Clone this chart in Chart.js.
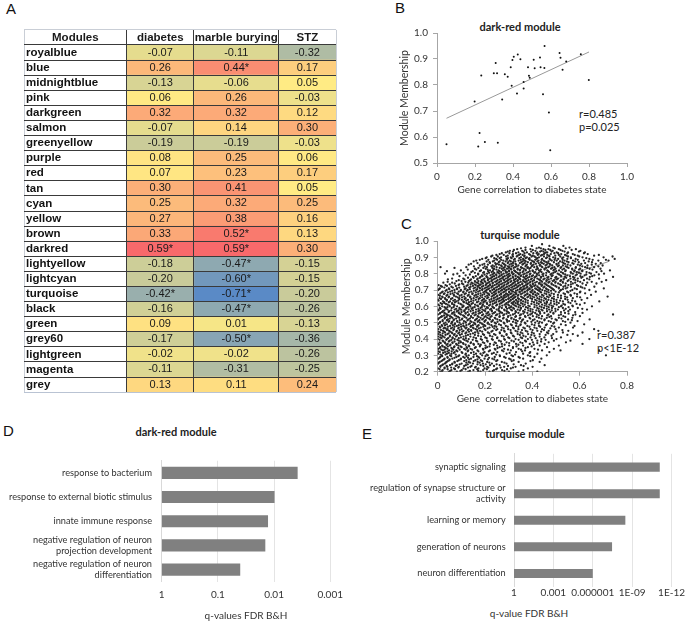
<!DOCTYPE html>
<html>
<head>
<meta charset="utf-8">
<script src="https://cdn.jsdelivr.net/npm/chart.js@4.4.1/dist/chart.umd.min.js"></script>
<style>
  html, body { margin: 0; padding: 0; background: #fff; }
  body { width: 685px; height: 623px; position: relative; overflow: hidden; font-family: Lato, sans-serif; color: #222; }
  .box { position: absolute; }
  .txt { position: absolute; white-space: nowrap; line-height: 1; }
  .letter { font-family: 'Liberation Sans', Arial, sans-serif; font-size: 15px; color: #111; }
  .ttl { font-size: 11px; font-weight: bold; transform: translate(-50%, -50%); color: #222; }
  .note { font-size: 11px; transform: translate(0, -50%); color: #222; }
  .axt { font-size: 10px; transform: translate(-50%, -50%); color: #333; }
</style>
</head>
<body>
<div class="txt letter" style="left:6px; top:1px">A</div>
<div class="txt letter" style="left:395px; top:0px">B</div>
<div class="txt letter" style="left:401px; top:216px">C</div>
<div class="txt letter" style="left:3px; top:423px">D</div>
<div class="txt letter" style="left:362px; top:426px">E</div>

<div class="txt ttl" style="left:520px; top:26px">dark-red module</div>
<div class="txt ttl" style="left:520px; top:234px">turquise module</div>
<div class="txt ttl" style="left:176px; top:431px">dark-red module</div>
<div class="txt ttl" style="left:525px; top:433px">turquise module</div>

<div class="txt note" style="left:579px; top:113px">r=0.485</div>
<div class="txt note" style="left:579px; top:126px">p=0.025</div>
<div class="txt note" style="left:597px; top:334px">r=0.387</div>
<div class="txt note" style="left:597px; top:347px">p&lt;1E-12</div>
<div class="txt axt" style="left:529px; top:613px">q-value FDR B&amp;H</div>

<div class="box" style="left:19px; top:21px; width:318px; height:380px"><canvas id="heat"></canvas></div>
<div class="box" style="left:385px; top:10px; width:255px; height:195px"><canvas id="darkred"></canvas></div>
<div class="box" style="left:385px; top:220px; width:255px; height:190px"><canvas id="turq"></canvas></div>
<div class="box" style="left:0px; top:440px; width:350px; height:183px"><canvas id="goDark"></canvas></div>
<div class="box" style="left:335px; top:440px; width:350px; height:183px"><canvas id="goTurq"></canvas></div>

<script>
// ---- A: module / trait correlations
const modules = ['royalblue', 'blue', 'midnightblue', 'pink', 'darkgreen', 'salmon', 'greenyellow', 'purple', 'red', 'tan', 'cyan', 'yellow', 'brown', 'darkred', 'lightyellow', 'lightcyan', 'turquoise', 'black', 'green', 'grey60', 'lightgreen', 'magenta', 'grey']
const traits = ['diabetes', 'marble burying', 'STZ']
const diabetesCor = [-0.07, 0.26, -0.13, 0.06, 0.32, -0.07, -0.19, 0.08, 0.07, 0.30, 0.25, 0.27, 0.33, 0.59, -0.18, -0.20, -0.42, -0.16, 0.09, -0.17, -0.02, -0.11, 0.13]
const marbleCor = [-0.11, 0.44, -0.06, 0.26, 0.32, 0.14, -0.19, 0.25, 0.23, 0.41, 0.32, 0.38, 0.52, 0.59, -0.47, -0.60, -0.71, -0.47, 0.01, -0.50, -0.02, -0.31, 0.11]
const stzCor = [-0.32, 0.17, 0.05, -0.03, 0.12, 0.30, -0.03, 0.06, 0.17, 0.05, 0.25, 0.16, 0.13, 0.30, -0.15, -0.15, -0.20, -0.26, -0.13, -0.36, -0.26, -0.25, 0.24]
const diabetesSig = ['darkred', 'turquoise']
const marbleSig = ['blue', 'brown', 'darkred', 'lightyellow', 'lightcyan', 'turquoise', 'black', 'grey60']
const stzSig = []

// ---- B: dark-red module genes
const darkredX = [0.05, 0.198, 0.233, 0.224, 0.217, 0.252, 0.299, 0.309, 0.316, 0.32, 0.357, 0.372, 0.343, 0.388, 0.397, 0.404, 0.393, 0.425, 0.439, 0.421, 0.456, 0.456, 0.479, 0.484, 0.488, 0.509, 0.514, 0.542, 0.545, 0.566, 0.565, 0.558, 0.589, 0.596, 0.645, 0.65, 0.68, 0.661, 0.757, 0.799]
const darkredY = [0.572, 0.737, 0.837, 0.615, 0.563, 0.581, 0.845, 0.885, 0.845, 0.578, 0.841, 0.832, 0.744, 0.868, 0.896, 0.909, 0.797, 0.917, 0.899, 0.767, 0.812, 0.787, 0.868, 0.836, 0.828, 0.897, 0.864, 0.906, 0.868, 0.95, 0.865, 0.764, 0.694, 0.549, 0.923, 0.905, 0.89, 0.859, 0.918, 0.819]
const darkredFitX = [0.05, 0.8]
const darkredFitY = [0.672, 0.927]

// ---- C: turquoise module genes, read off as "membership: correlations(1/1000)"
// rows on whole hundredths of membership
const turqRows = [
  '98:441', '97:398 472 531', '96:371 428 489 557', '95:336 392 447 468 512 584',
  '94:305 357 413 439 486 527 603', '93:288 341 377 421 458 463 503 551 622',
  '92:262 318 349 386 427 449 478 522 571 634', '91:231 296 338 367 402 436 471 497 544 592 661',
  '90:207 268 309 352 377 414 428 462 488 531 563 612 701', '89:188 247 291 326 361 385 418 441 473 509 548 583 641 748',
  '88:163 239 277 304 342 368 397 426 447 482 503 536 572 618 679 722', '87:219 258 298 319 353 381 408 437 459 491 527 553 596 652',
  '86:141 197 251 279 311 329 362 393 415 448 473 502 538 574 607 668', '85:178 232 268 287 318 341 373 399 431 456 484 512 529 561 601 633 697',
  '84:012 121 208 249 283 302 327 352 381 408 442 467 493 522 547 584 623 661', '83:157 203 238 271 293 309 338 364 387 423 451 479 498 534 568 602 642 688',
  '82:098 183 221 257 276 301 323 347 372 401 428 463 489 513 541 579 611 728', '81:142 196 228 252 268 293 314 331 359 383 412 439 471 496 521 562 588 629 671',
  '80:031 083 171 209 237 261 279 302 321 341 368 392 418 447 482 507 531 571 604 648 703', '79:118 187 223 248 269 291 307 329 352 377 403 429 458 486 519 548 583 621 662',
  '78:149 181 207 231 258 277 298 317 338 362 388 412 437 468 501 538 572 612 643 741', '77:061 108 169 198 221 242 268 288 309 331 347 373 398 421 452 479 508 533 561 592 631 682',
  '76:089 137 186 212 229 253 281 297 322 339 361 384 407 433 461 492 521 553 582 618 712', '75:042 117 158 183 201 219 243 262 287 308 327 351 368 392 419 441 472 498 528 563 602 651 693',
  '74:072 103 148 172 191 208 232 251 273 297 318 339 358 381 402 428 452 481 509 541 571 612 671', '73:004 033 088 127 161 178 203 222 241 259 282 309 331 348 373 391 413 442 461 489 521 552 588 627',
  '72:018 058 112 139 168 187 211 229 252 271 293 317 338 361 379 398 421 451 473 502 531 563 604 662', '71:009 047 081 118 152 179 198 218 238 263 279 301 327 349 368 387 412 431 458 483 512 541 579 621 702',
  '70:002 038 071 098 127 163 188 207 231 249 272 291 309 338 357 381 401 423 442 468 491 521 569 641', '69:021 053 089 109 142 171 199 223 241 258 281 302 318 347 369 392 409 433 461 498 547 603 668',
  '68:011 029 063 082 119 148 181 212 229 247 268 289 311 332 358 379 402 421 452 481 532 578 623', '67:003 041 068 101 131 162 189 218 238 262 284 298 322 341 372 388 413 441 472 508 561 648',
  '66:019 048 077 112 138 169 201 228 251 269 291 313 329 352 383 401 431 462 491 538 589 718', '65:008 031 062 091 118 152 178 209 237 261 278 301 321 339 362 392 421 451 483 521 571 632',
  '64:001 039 073 102 128 161 191 219 248 271 289 309 331 353 372 412 438 468 502 549 608', '63:022 052 079 108 141 172 198 231 258 279 302 323 341 361 398 429 461 491 529 581 683',
  '62:012 028 061 088 121 149 182 208 241 268 291 312 329 352 381 419 452 478 512 561 621', '61:002 042 069 101 132 158 191 222 251 283 298 321 342 368 409 441 472 503 538 601',
  '60:019 051 082 109 138 171 198 231 262 288 311 332 361 389 431 461 488 521 571 652', '59:009 033 059 092 121 148 181 212 238 271 302 319 352 381 421 449 483 529 592',
  '58:003 041 072 099 131 162 189 221 249 281 309 338 369 401 438 471 508 559 631', '57:022 048 081 112 139 172 201 229 261 292 329 361 392 428 462 498 552',
  '56:011 028 063 089 118 152 179 211 238 272 301 341 379 412 451 489 538 612', '55:001 039 071 098 132 161 192 219 251 281 318 352 391 419 468 521 582 741',
  '54:018 052 079 112 141 169 203 228 262 298 331 369 402 441 479 531 601', '53:008 031 062 091 121 149 181 209 241 279 312 349 388 428 461 512 569',
  '52:002 043 069 102 129 162 188 221 252 291 322 361 409 452 498 551 642', '51:021 049 082 111 138 171 198 231 268 302 338 379 421 469 529 591',
  '50:009 033 061 092 119 152 179 212 241 279 329 368 412 441 492 561', '49:001 039 072 098 131 159 191 218 259 309 351 398 461 521 619',
  '48:019 052 081 108 141 169 201 241 288 331 379 428 482 578', '47:011 029 062 089 122 148 182 219 271 318 362 409 452 512 572',
  '46:003 042 069 101 131 161 198 252 298 341 392 441 498 661', '45:022 048 081 109 142 179 232 281 329 372 421 469 552 679',
  '44:009 031 059 091 121 158 212 262 309 351 398 462 529 612', '43:002 041 072 102 138 191 238 291 338 382 431 488 571',
  '42:019 052 081 119 171 221 271 318 362 409 481 592', '41:011 029 063 098 152 201 252 298 351 392 451 521',
  '40:001 039 072 108 131 182 229 281 329 381 438 502 641', '39:021 051 089 121 162 209 259 312 369 421 491 561',
  '38:008 031 062 098 141 191 241 291 349 402 469 542', '37:002 042 078 109 151 172 221 271 331 389 452 612',
  '36:019 052 088 131 179 202 251 302 361 431 512', '35:011 029 069 101 122 161 209 262 318 381 462',
  '34:003 041 061 112 139 191 241 281 342 409 491', '33:022 048 079 129 168 221 272 309 369 441 519 682',
  '32:009 031 072 101 152 198 252 331 391 472', '31:001 039 058 119 162 181 229 291 361 421',
  '30:018 052 091 131 188 212 262 312 381 461 711', '29:011 041 079 108 151 172 241 281 342 409',
  '28:003 029 062 098 141 198 231 302 361 438', '27:021 049 089 121 159 182 252 321 402',
  '26:009 038 071 131 169 209 271 342 431', '25:002 031 062 101 149 191 229 291 372',
  '24:019 052 081 119 181 221 262 352 452', '23:011 041 089 138 161 209 281 329 401',
  '22:001 029 069 109 172 198 251 309 381', '21:021 058 102 151 192 238 272 362', '20:012 048 081 129 181 219 301 342 421'
]
// rows between them (membership in 1/1000)
const turqRowsMid = [
  '955:352 418 436 495 541', '945:322 371 402 455 476 519 566', '935:296 318 362 395 433 447 481 536 597',
  '925:271 303 331 367 404 418 452 493 509 548 618', '915:248 279 316 344 359 391 423 441 463 512 538 579 681',
  '905:226 254 289 318 334 366 397 409 449 472 518 551 598 739', '895:203 239 262 297 312 345 372 388 421 458 497 526 563 628',
  '885:178 214 251 268 293 322 351 363 389 412 439 476 494 528 592 655 711', '875:152 207 233 262 287 309 328 359 372 403 421 452 468 517 546 581 638',
  '865:168 221 243 274 296 318 347 368 394 427 441 466 511 532 569 623 689', '855:131 189 212 246 259 283 304 331 358 377 405 433 461 476 503 549 592 651',
  '845:153 199 227 239 271 297 312 334 371 397 419 438 472 508 541 611 679', '835:071 172 193 231 262 278 301 321 356 379 392 421 458 484 519 553 583 632',
  '825:127 163 211 236 248 283 311 338 349 371 416 436 452 492 527 569 597 654', '815:039 148 178 213 233 261 287 302 327 362 389 402 433 467 501 539 577 611 692',
  '805:109 157 192 217 239 256 289 313 337 349 377 408 427 459 489 528 563 597 641', '795:066 136 171 198 231 247 271 297 318 344 362 389 421 443 477 513 539 588 628 681',
  '785:092 161 189 206 238 262 283 302 329 351 373 398 417 446 482 522 559 603 653', '775:128 152 178 211 227 249 274 296 319 343 366 381 409 436 463 497 543 578 607',
  '765:043 113 141 167 193 213 236 262 278 303 327 349 371 394 428 447 469 503 532 574 641', '755:079 101 132 157 172 198 227 249 268 293 311 336 362 377 401 438 459 487 518 549 592',
  '745:024 061 129 143 166 188 214 233 259 281 299 322 343 372 389 412 431 468 497 529 581 632', '735:051 091 108 139 157 182 204 221 248 267 291 313 329 357 378 402 436 458 482 517 563',
  '725:013 039 077 122 149 171 193 216 233 259 278 302 324 342 366 393 408 439 467 497 539 593', '715:028 064 091 133 158 176 204 227 246 269 287 311 334 352 376 397 426 447 478 512 548 611',
  '705:006 049 082 114 136 167 189 213 238 257 282 299 319 347 362 389 417 433 461 487 529 588', '695:033 061 097 123 153 178 203 221 246 267 288 313 331 356 378 399 428 453 479 517 561',
  '685:017 043 072 108 133 161 193 206 237 258 277 302 327 346 366 394 411 437 469 512 552 601', '675:026 054 086 114 146 171 197 216 243 268 293 307 331 352 379 403 426 459 491 538 589',
  '665:009 037 069 093 127 155 181 209 233 252 279 299 318 339 367 392 418 447 476 521 563', '655:021 046 084 103 137 163 188 214 243 269 284 309 326 357 379 408 439 469 508 547 602',
  '645:014 032 056 091 114 142 173 196 227 254 276 298 317 343 369 399 429 457 491 539', '635:004 038 066 087 121 151 186 203 238 263 281 308 333 351 381 418 448 479 517 568',
  '625:027 047 073 111 132 166 193 222 247 273 298 319 338 371 407 436 462 503 552', '615:018 035 061 096 127 143 178 209 233 262 289 317 337 359 396 427 459 493 531 587',
  '605:007 049 071 108 137 167 189 217 247 273 302 327 349 383 418 452 481 524 569', '595:029 041 067 104 128 156 186 208 233 261 289 309 342 373 409 439 469 512 553',
  '585:012 035 078 093 119 143 172 203 226 258 293 323 351 392 427 461 497 541 611', '575:004 028 057 087 114 149 177 196 228 257 283 314 347 383 417 443 482 534',
  '565:018 046 069 101 127 161 187 214 243 266 297 331 367 402 432 476 521 581', '555:009 033 061 093 118 147 173 206 232 261 291 326 362 398 433 489 553',
  '545:027 043 072 107 128 156 187 213 246 277 307 347 382 427 463 512 572', '535:014 038 057 086 114 141 173 198 223 261 297 328 371 418 472 539',
  '525:002 029 051 078 104 136 166 193 217 244 276 311 346 391 438 482 523', '515:021 039 067 093 126 158 176 203 233 262 293 331 357 402 451 503 567',
  '505:011 046 061 083 117 143 169 198 227 253 294 318 353 396 431 478 539', '495:003 026 057 073 108 136 157 186 211 246 282 333 371 427 488',
  '485:017 031 064 089 121 149 173 197 227 267 313 349 409 457 541', '475:008 043 071 099 113 139 166 193 232 248 296 341 388 433 493',
  '465:025 034 056 087 118 152 174 211 239 279 322 368 418 476', '455:014 039 066 093 127 141 167 202 247 269 308 356 401 449 527',
  '445:004 027 052 079 104 132 168 188 227 283 337 379 437 502', '435:021 046 062 087 117 149 172 218 263 312 358 406 467',
  '425:011 033 069 094 128 157 196 244 291 347 396 456 548', '415:002 022 051 077 109 138 183 231 279 323 372 431',
  '405:016 044 063 089 119 162 207 251 303 357 414 483', '395:008 036 058 083 113 148 187 233 284 342 398 456',
  '385:024 047 071 096 127 167 211 267 322 373 437', '375:013 031 063 089 107 139 197 246 302 358 421',
  '365:005 037 054 081 118 153 182 237 283 341 406', '355:021 043 071 097 133 178 219 272 333 397',
  '345:009 034 058 087 124 157 202 253 318 371', '335:015 029 066 093 118 146 193 244 297 352 424',
  '325:004 041 059 083 127 172 216 278 357', '315:023 047 068 104 141 193 237 304 388',
  '305:012 033 076 117 153 207 247 327', '295:019 057 087 122 166 202 263 318 391',
  '285:008 042 071 114 128 176 217 287 347', '275:027 051 097 133 168 212 239 308',
  '265:016 043 083 112 152 188 247 313 392', '255:005 034 072 121 137 177 218 282',
  '245:023 061 093 127 168 203 249 321', '235:012 038 076 112 143 193 238 297 363',
  '225:029 057 087 128 158 214 266 318', '215:008 042 073 118 167 208 247 293', '205:019 053 096 136 171 233 282'
]
const turqFitX = [0.0, 0.72]
const turqFitY = [0.525, 0.873]

// ---- D / E: GO enrichment
const darkTerms = [['response to bacterium'], ['response to external biotic stimulus'], ['innate immune response'], ['negative regulation of neuron', 'projection development'], ['negative regulation of neuron', 'differentiation']]
const darkQ = [0.0038, 0.0098, 0.0128, 0.0143, 0.040]
const darkTicks = [1, 0.1, 0.01, 0.001]
const darkTickLabels = ['1', '0.1', '0.01', '0.001']
const turqTerms = [['synaptic signaling'], ['regulation of synapse structure or', 'activity'], ['learning or memory'], ['generation of neurons'], ['neuron differentiation']]
const turqQ = [7.9e-12, 7.9e-12, 3.3e-9, 3.4e-8, 1e-6]
const turqTicks = [1, 1e-3, 1e-6, 1e-9, 1e-12]
const turqTickLabels = ['1', '0.001', '0.000001', '1E-09', '1E-12']

Chart.defaults.font.family = 'Lato, "Open Sans", sans-serif'
Chart.defaults.color = '#333'
Chart.defaults.animation = false
Chart.defaults.plugins.legend.display = false
Chart.defaults.plugins.tooltip.enabled = false

// ---------------- A ----------------
const COL_EDGES = [0, 104, 172, 258, 316]
const rowLabels = [''].concat(modules)
const traitCols = [
  { vals: diabetesCor, sig: diabetesSig },
  { vals: marbleCor, sig: marbleSig },
  { vals: stzCor, sig: stzSig }
]
const allVals = diabetesCor.concat(marbleCor, stzCor).slice().sort((a, b) => a - b)
const minVal = allVals[0]
const maxVal = allVals[allVals.length - 1]
const midVal = allVals[Math.floor(allVals.length / 2)]

function heatColor (v) {
  const lo = [90, 138, 198]
  const mid = [255, 235, 132]
  const hi = [248, 105, 107]
  let a, b, t
  if (v <= midVal) {
    a = lo; b = mid; t = (v - minVal) / (midVal - minVal)
  } else {
    a = mid; b = hi; t = (v - midVal) / (maxVal - midVal)
  }
  return 'rgb(' + a.map((c, i) => Math.round(c + (b[i] - c) * t)).join(',') + ')'
}

const heatSets = [0, 1, 2, 3].map(c => ({
  data: rowLabels.map(() => [COL_EDGES[c], COL_EDGES[c + 1]]),
  backgroundColor: rowLabels.map((r, i) => (c === 0 || i === 0) ? '#ffffff' : heatColor(traitCols[c - 1].vals[i - 1])),
  borderWidth: 0,
  barPercentage: 1,
  categoryPercentage: 1,
  grouped: false
}))

const cellText = {
  id: 'cellText',
  afterDatasetsDraw (chart) {
    const { ctx } = chart
    const xs = chart.scales.x
    const ys = chart.scales.y
    const colMid = c => xs.getPixelForValue((COL_EDGES[c] + COL_EDGES[c + 1]) / 2)
    ctx.save()
    ctx.textAlign = 'center'
    ctx.textBaseline = 'middle'
    ctx.fillStyle = '#1a1a1a'
    ctx.font = 'bold 11.5px "Liberation Sans", Arial, sans-serif'
    ;['Modules'].concat(traits).forEach((h, c) => ctx.fillText(h, colMid(c), ys.getPixelForValue(0)))
    ctx.font = '11px "Liberation Sans", Arial, sans-serif'
    traitCols.forEach((col, c) => {
      col.vals.forEach((v, i) => {
        const txt = v.toFixed(2) + (col.sig.includes(modules[i]) ? '*' : '')
        ctx.fillText(txt, colMid(c + 1), ys.getPixelForValue(i + 1))
      })
    })
    ctx.restore()
  }
}

new Chart('heat', {
  type: 'bar',
  data: { labels: rowLabels, datasets: heatSets },
  options: {
    indexAxis: 'y',
    responsive: true,
    maintainAspectRatio: false,
    layout: { padding: 1 },
    scales: {
      x: {
        type: 'linear',
        min: 0,
        max: COL_EDGES[COL_EDGES.length - 1],
        afterBuildTicks: s => { s.ticks = COL_EDGES.map(v => ({ value: v })) },
        ticks: { display: false },
        grid: { z: 1, drawTicks: false, color: ctx => (ctx.index === 0 || ctx.index === COL_EDGES.length - 1) ? '#c9ced6' : '#3a3a3a' },
        border: { display: false }
      },
      y: {
        type: 'category',
        offset: true,
        ticks: { mirror: true, autoSkip: false, padding: 2, z: 2, color: '#111', font: { family: '"Liberation Sans", Arial, sans-serif', size: 11.5, weight: 'bold' } },
        grid: { z: 1, offset: true, drawTicks: false, color: ctx => ctx.type !== 'tick' ? '#b9c3d3' : (ctx.index === 0 ? '#c9ced6' : '#3a3a3a') },
        border: { display: false }
      }
    }
  },
  plugins: [cellText]
})

// ---------------- B / C ----------------
function scatterScales (o) {
  const axisColor = '#a6a6a6'
  return {
    x: {
      type: 'linear',
      min: 0,
      max: o.xMax,
      ticks: { stepSize: 0.2, padding: 4, color: '#333', font: { size: 10 } },
      grid: { drawOnChartArea: false, tickLength: 4, color: axisColor },
      border: { color: axisColor },
      title: { display: true, text: o.xTitle, color: '#333', font: { size: 10 }, padding: { top: 0, bottom: o.xTitlePad } },
      afterFit: s => { s.height = o.xHeight }
    },
    y: {
      type: 'linear',
      min: o.yMin,
      max: 1,
      ticks: { stepSize: 0.1, padding: 5, color: '#333', font: { size: 10 } },
      grid: { drawOnChartArea: false, tickLength: 4, color: axisColor },
      border: { color: axisColor },
      title: { display: true, text: 'Module Membership', color: '#333', font: { size: 10.5 }, padding: { top: o.yTitlePad, bottom: 0 } },
      afterFit: s => { s.width = o.yWidth }
    }
  }
}

new Chart('darkred', {
  type: 'scatter',
  data: {
    datasets: [
      { data: darkredX.map((x, i) => ({ x, y: darkredY[i] })), pointRadius: 1, pointBackgroundColor: '#111', pointBorderWidth: 0, order: 1 },
      { data: darkredFitX.map((x, i) => ({ x, y: darkredFitY[i] })), showLine: true, borderColor: '#999', borderWidth: 1, pointRadius: 0, order: 2 }
    ]
  },
  options: {
    responsive: true,
    maintainAspectRatio: false,
    layout: { padding: { top: 23, right: 13, left: 0, bottom: 0 } },
    scales: scatterScales({ xMax: 1, yMin: 0.5, xTitle: 'Gene correlation to diabetes state', xTitlePad: 9, xHeight: 42, yTitlePad: 13.7, yWidth: 52 })
  }
})

const turqPts = []
function addRows (rows, yDiv) {
  rows.forEach(row => {
    const parts = row.split(':')
    parts[1].trim().split(/\s+/).forEach(x => turqPts.push({ x: Number(x) / 1000, y: Number(parts[0]) / yDiv }))
  })
}
addRows(turqRows, 100)
addRows(turqRowsMid, 1000)

new Chart('turq', {
  type: 'scatter',
  data: {
    datasets: [
      { data: turqPts, pointRadius: 1.15, pointBackgroundColor: '#262626', pointBorderWidth: 0, order: 1 },
      { data: turqFitX.map((x, i) => ({ x, y: turqFitY[i] })), showLine: true, borderColor: '#999', borderWidth: 1, pointRadius: 0, order: 2 }
    ]
  },
  options: {
    responsive: true,
    maintainAspectRatio: false,
    layout: { padding: { top: 21, right: 13, left: 0, bottom: 0 } },
    scales: scatterScales({ xMax: 0.8, yMin: 0.2, xTitle: 'Gene  correlation to diabetes state', xTitlePad: 5, xHeight: 38.3, yTitlePad: 15.7, yWidth: 52.7 })
  }
})

// ---------------- D / E ----------------
function goChart (id, o) {
  return new Chart(id, {
    type: 'bar',
    data: {
      labels: o.terms,
      datasets: [{ data: o.q.map(q => [1, q]), backgroundColor: '#808080', borderWidth: 0, barPercentage: o.barPct, categoryPercentage: 1 }]
    },
    options: {
      indexAxis: 'y',
      responsive: true,
      maintainAspectRatio: false,
      layout: { padding: { top: o.padTop, right: o.padRight, left: 0, bottom: 0 } },
      scales: {
        x: {
          type: 'logarithmic',
          min: o.ticks[o.ticks.length - 1],
          max: 1,
          reverse: true,
          afterBuildTicks: s => { s.ticks = o.ticks.map(v => ({ value: v })) },
          ticks: { callback: (v, i) => o.tickLabels[i], padding: o.tickPad, color: '#333', font: { size: 10 }, maxRotation: 0, autoSkip: false },
          grid: { drawTicks: false, color: '#e4e4e4' },
          border: { display: false },
          title: { display: !!o.xTitle, text: o.xTitle, color: '#333', font: { size: 10 }, padding: { top: 0, bottom: o.xTitlePad } },
          afterFit: s => { s.height = o.xHeight }
        },
        y: {
          ticks: { padding: o.labelPad, autoSkip: false, color: '#333', font: { size: 9.2 } },
          grid: { display: false, drawTicks: false },
          border: { color: '#d9d9d9' },
          afterFit: s => { s.width = o.yWidth }
        }
      }
    }
  })
}

goChart('goDark', { terms: darkTerms, q: darkQ, ticks: darkTicks, tickLabels: darkTickLabels, barPct: 0.5, padTop: 11, padRight: 13.3, xHeight: 41.3, yWidth: 161.7, labelPad: 9.7, tickPad: 7, xTitle: 'q-values FDR B&H', xTitlePad: 1.3 })
goChart('goTurq', { terms: turqTerms, q: turqQ, ticks: turqTicks, tickLabels: turqTickLabels, barPct: 0.34, padTop: 5, padRight: 12.7, xHeight: 36.3, yWidth: 179, labelPad: 8.3, tickPad: 0, xTitle: '', xTitlePad: 0 })
</script>
</body>
</html>
